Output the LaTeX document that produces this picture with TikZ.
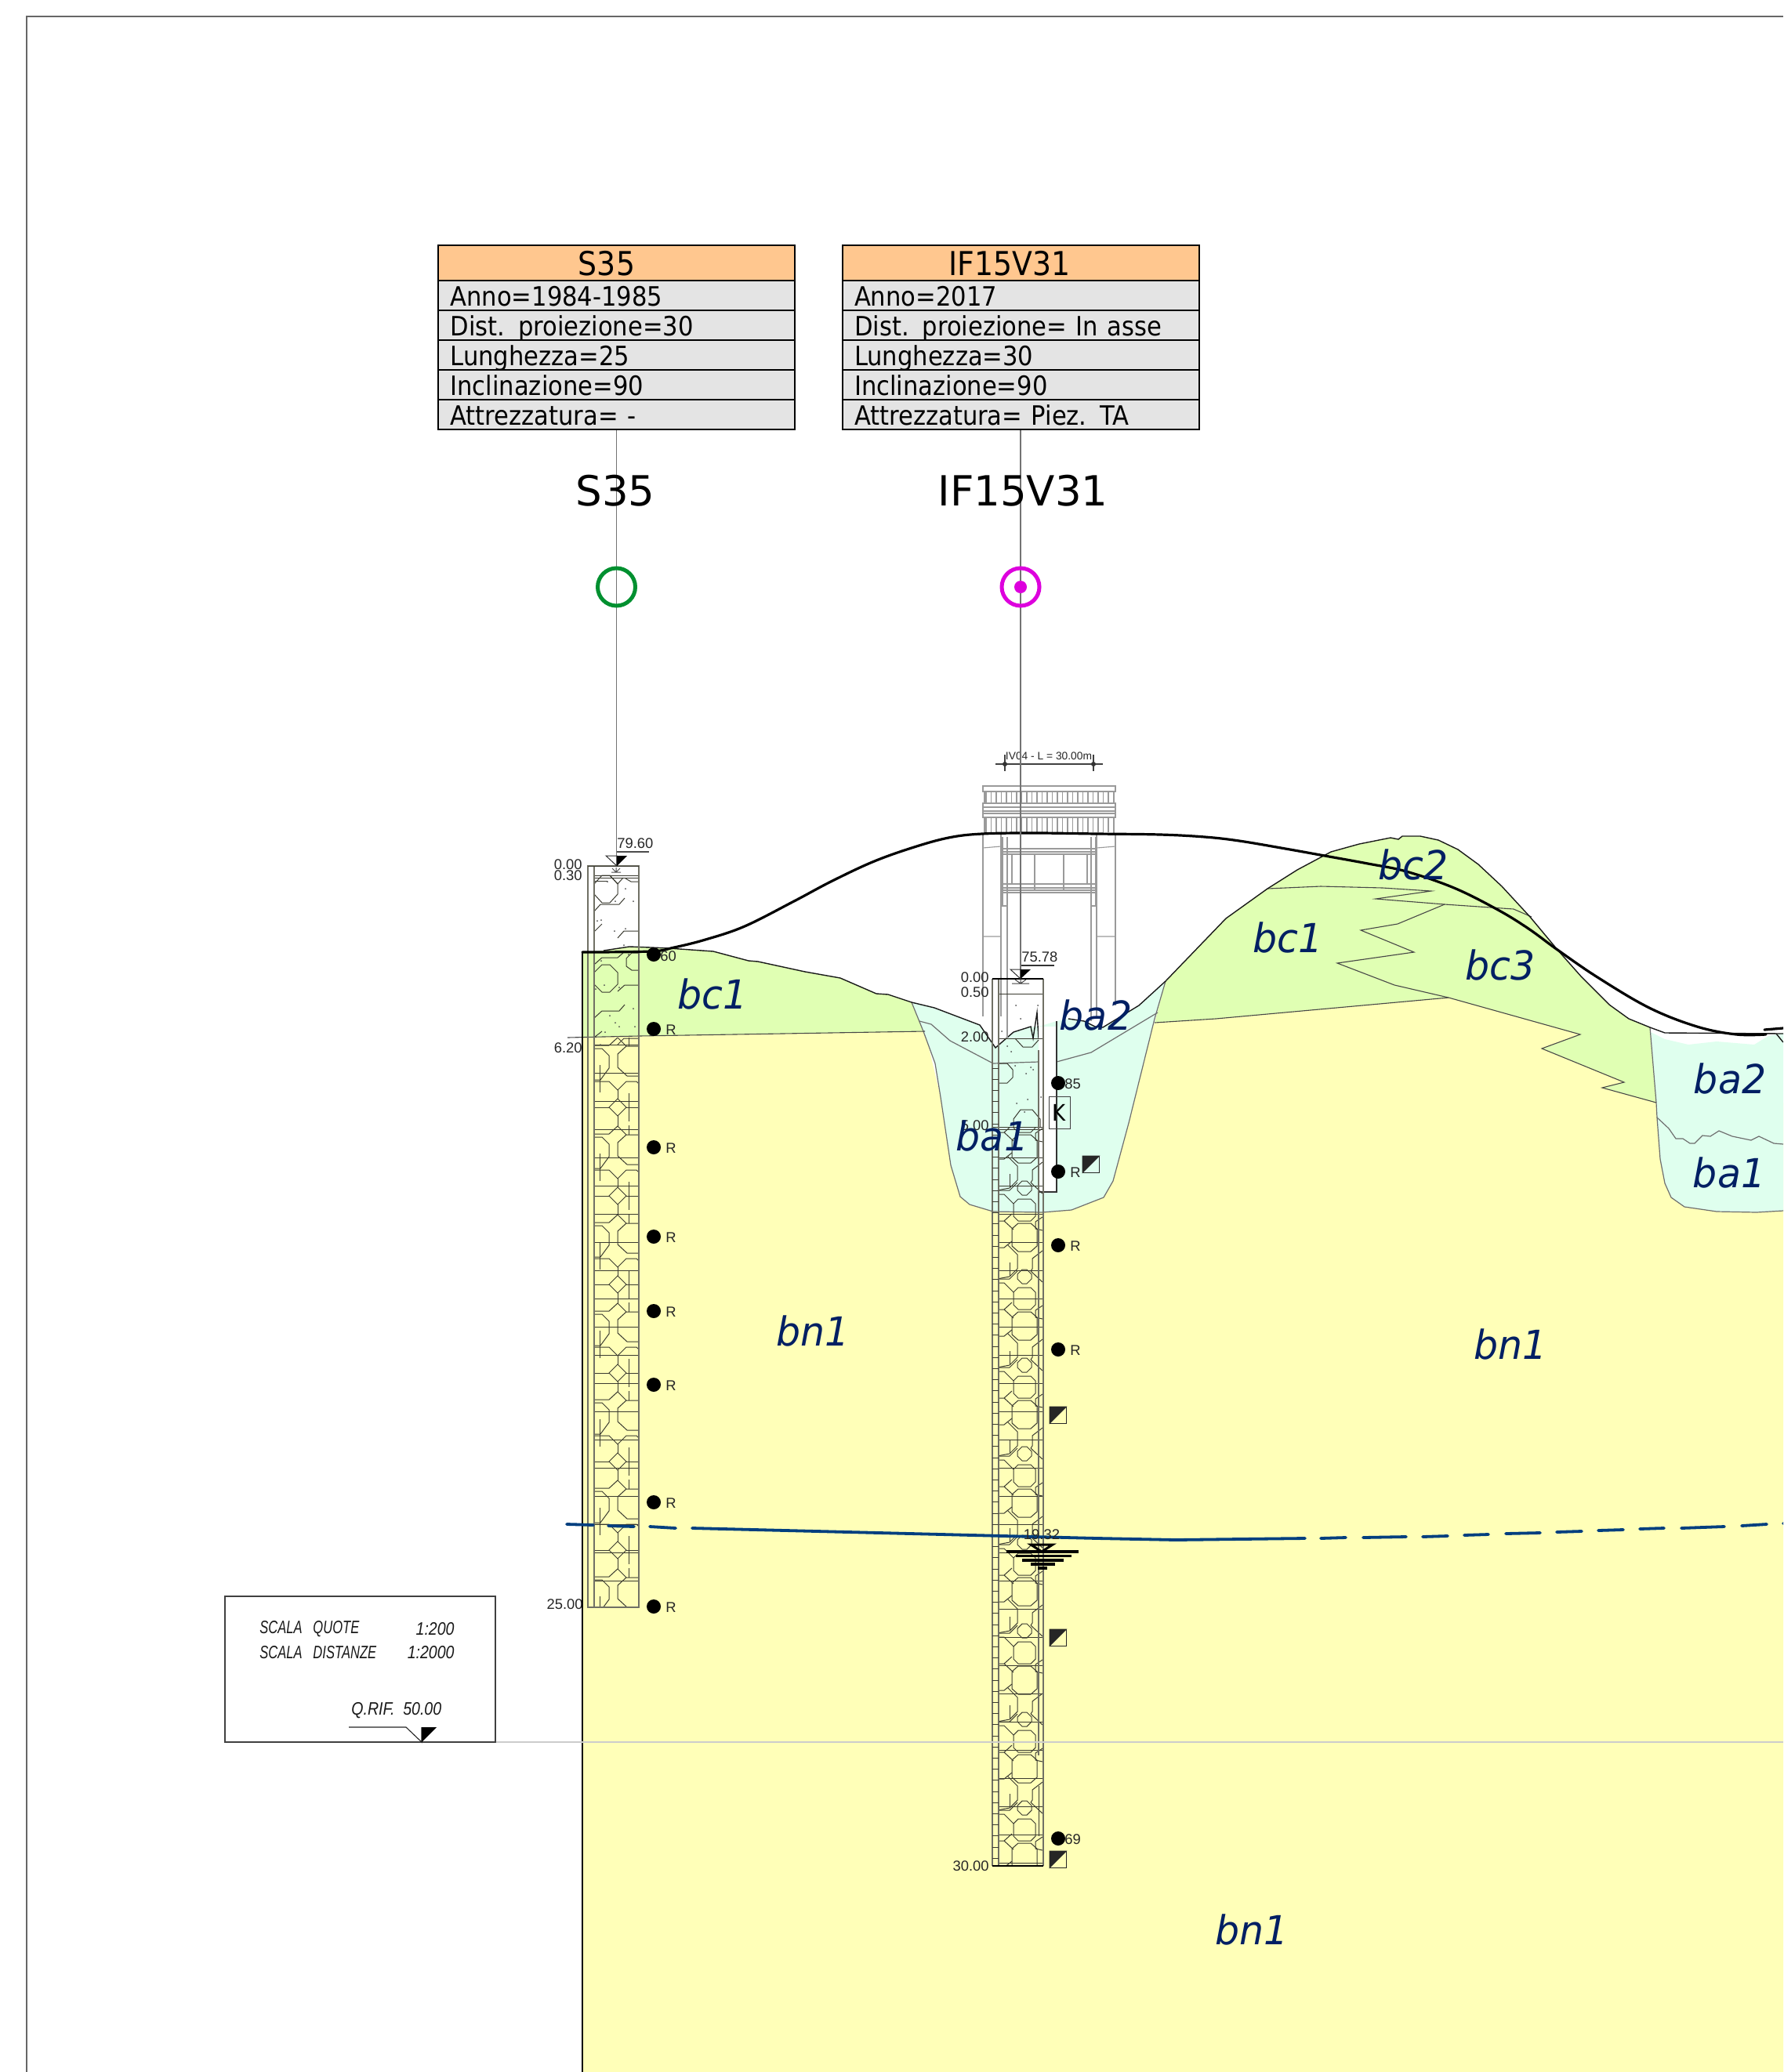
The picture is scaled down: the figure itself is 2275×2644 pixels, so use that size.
\documentclass[tikz,border=0pt]{standalone}
\usepackage{fontspec}
\usepackage{graphicx}
\setmainfont{Liberation Sans}
\newfontfamily\tabfont{DejaVu Sans}[FakeStretch=0.9,WordSpace=0.8]
\newfontfamily\zonefont{DejaVu Sans}[FakeStretch=0.96]
\newfontfamily\bigfont{DejaVu Sans}
\definecolor{yel}{HTML}{FFFFB8}
\definecolor{grn}{HTML}{E0FFB3}
\definecolor{cya}{HTML}{DFFFEE}
\definecolor{hdr}{HTML}{FFC78F}
\definecolor{rowg}{HTML}{E4E4E4}
\definecolor{navy}{HTML}{001F63}
\definecolor{water}{HTML}{003F7F}
\definecolor{hatch}{HTML}{3A3A30}
\definecolor{wall}{HTML}{6E6E6E}
\definecolor{struct}{HTML}{9A9A9A}
\definecolor{colline}{HTML}{707065}
\tikzset{
  cell/.style={draw=black,line width=1pt,fill=rowg,minimum width=227.5pt,minimum height=19pt,
    inner ysep=0pt,inner xsep=7.75pt,text width=212pt,align=left,text height=14pt,text depth=1pt,
    font=\tabfont\fontsize{17pt}{17pt}\selectfont},
  headcell/.style={draw=black,line width=1pt,fill=hdr,minimum width=227.5pt,minimum height=22.5pt,inner sep=0pt},
  headtxt/.style={inner sep=0pt,font=\tabfont\fontsize{21pt}{21pt}\selectfont},
  bigtxt/.style={inner sep=0pt,font=\bigfont\fontsize{26.5pt}{26.5pt}\selectfont},
  zone/.style={inner sep=0pt,text=navy,font=\zonefont\itshape\fontsize{25.5pt}{25.5pt}\selectfont},
  small/.style={inner sep=0pt,text=black!85,font=\fontsize{9.2pt}{9.2pt}\selectfont},
  scaletxt/.style={inner sep=0pt,text=black!90,font=\itshape\fontsize{11.5pt}{11.5pt}\selectfont},
  rod/.style={draw=black!55,line width=0.75pt},
  contact/.style={draw=black!72,line width=0.55pt},
  wallline/.style={draw=wall,line width=0.6pt},
  hl/.style={draw=hatch,line width=0.5pt},
  col/.style={draw=colline,line width=0.8pt},
  stl/.style={draw=struct,line width=0.55pt},
  topo/.style={draw=black,line width=1.6pt,line cap=round},
  wt/.style={draw=water,line width=1.9pt,line cap=round},
  dotm/.style={circle,fill=black,inner sep=0pt,minimum size=9pt},
  sqm/.style={draw=black!85,line width=0.8pt,minimum size=10.5pt,inner sep=0pt}
}
\newcommand\tileS{%
  \draw[hl] (-11,0)--(0,-11)--(11,0)--(0,11)--cycle;
  \draw[hl] (-30,0)--(-11,0) (11,0)--(27,0) (0,11)--(0,24);
  \draw[hl] (-30,34)--(-11,34)--(0,24)--(11,35)--(27,35);
  \draw[hl] (11,35)--(0,45)--(0,62)--(12,73)--(27,73);
  \draw[hl] (-30,38)--(-20,38)--(-11,47)--(-11,63)--(-22,78)--(-30,78);
  \draw[hl] (-30,80)--(-11,80)--(0,91)--(11,80)--(24,80)--(27,83);
  \draw[hl] (0,91)--(0,102);
  \draw[hl] (-23,59)--(-23,94) (14,23)--(14,35) (14,95)--(14,131);
}
\newcommand\tileI{%
  \draw[hl] (-9,-3)--(-3,-9)--(3,-9)--(9,-3)--(9,3)--(3,9)--(-3,9)--(-9,3)--cycle;
  \draw[hl] (-14,20)--(-8,14)--(8,14)--(14,20)--(14,36)--(8,42)--(-8,42)--(-14,36)--cycle;
  \draw[hl] (-16,52)--(-8,45)--(8,45)--(16,52)--(16,74)--(8,81)--(-8,81)--(-16,74)--cycle;
  \draw[hl] (-35,3)--(-19,3)--(-9,-7) (-35,8)--(-26,8)--(-14,20);
  \draw[hl] (8,-7)--(23,7);
  \draw[hl] (-16,33)--(-26,42)--(-35,42) (-26,42)--(-14,53);
  \draw[hl] (23,37)--(14,43)--(14,52)--(23,54);
  \draw[hl] (-35,76)--(-26,76)--(-16,68);
  \draw[hl] (-22,72)--(-9,85)--(-9,103)--(-19,113)--(-35,116);
  \draw[hl] (23,80)--(10,90)--(10,103)--(8,106);
  \draw[hl] (-19,95)--(-19,113) (18,0)--(18,36) (18,85)--(18,113);
}
\begin{document}
\begin{tikzpicture}[x=.5pt,y=-.5pt]
\useasboundingbox (0,0) rectangle (2275,2644);
\clip (0,0) rectangle (2275,2644);
\fill[white] (0,0) rectangle (2275,2644);
% sheet frame
\draw[draw=black!60,line width=0.6pt] (34,2644)--(34,21)--(2275,21);

% geology
\fill[yel] (743,1324)--(815,1322)--(1180,1316)--(1200,1400)--(1440,1400)--(1473,1305)--(1551,1300)--(1848,1273)--(2016,1320)--(1967,1338)--(2072,1381)--(2044,1388)--(2113,1407)--(2275,1407)--(2275,2644)--(743,2644)--cycle;
\fill[grn] (743,1215)--(770,1213)--(803,1208)--(830,1209)--(853,1210)--(910,1214)--(955,1226)--(967,1227)--(1027,1240)--(1072,1248)--(1118,1268)--(1133,1269)--(1163,1279)--(1178,1316)--(815,1322)--(743,1324)--cycle;
\fill[grn] (1473,1305)--(1487,1252)--(1564,1172)--(1617,1134)--(1655,1110)--(1698,1087)--(1734,1077)--(1774,1069)--(1784,1071)--(1789,1067)--(1812,1067)--(1835,1072)--(1860,1084)--(1886,1103)--(1916,1131)--(1952,1170)--(1987,1212)--(2018,1247)--(2053,1282)--(2078,1300)--(2105,1311)--(2113,1407)--(2044,1388)--(2072,1381)--(1967,1338)--(2016,1320)--(1848,1273)--(1551,1300)--cycle;
% alluvium in the first valley
\fill[cya] (1163,1279)--(1192,1286)--(1250,1308)--(1270,1337)--(1293,1317)--(1315,1310)--(1325,1310)--(1348,1303)--(1363,1300)--(1383,1303)--(1397,1310)--(1407,1311)--(1453,1283)--(1487,1252)--(1473,1300)--(1440,1433)--(1420,1507)--(1408,1528)--(1367,1544)--(1330,1547)--(1267,1546)--(1237,1537)--(1225,1527)--(1213,1487)--(1200,1400)--(1193,1357)--(1178,1316)--cycle;
\draw[wallline] (1163,1279)--(1178,1316)--(1193,1357)--(1200,1400)--(1213,1487)--(1225,1527)--(1237,1537)--(1267,1546)--(1330,1547)--(1367,1544)--(1408,1528)--(1420,1507)--(1440,1433)--(1473,1300)--(1487,1252);
\draw[wallline] (1173,1303)--(1188,1307)--(1212,1328)--(1267,1357)--(1325,1355);
\draw[wallline] (1348,1355)--(1392,1343)--(1477,1292);
% alluvium in the second valley
\fill[cya] (2106,1317)--(2124,1326)--(2154,1333)--(2190,1329)--(2238,1333)--(2256,1322)--(2275,1318)--(2275,1545)--(2241,1547)--(2190,1546)--(2149,1540)--(2132,1528)--(2124,1510)--(2118,1479)--(2114,1426)--(2113,1407)--cycle;
\draw[wallline] (2105,1311)--(2113,1407)--(2114,1426)--(2118,1479)--(2124,1510)--(2132,1528)--(2149,1540)--(2190,1546)--(2241,1547)--(2275,1545);
\draw[wallline] (2114,1426)--(2129,1440)--(2138,1453)--(2147,1453)--(2156,1459)--(2162,1459)--(2172,1449)--(2182,1450)--(2193,1443)--(2210,1450)--(2234,1455)--(2244,1450)--(2263,1459)--(2275,1460);
% contacts
\draw[contact] (724,1324)--(815,1322)--(1180,1316);
\draw[contact] (1473,1305)--(1551,1300)--(1848,1273)--(2016,1320)--(1967,1338)--(2072,1381)--(2044,1388)--(2113,1407);
\draw[contact] (1617,1134)--(1685,1131)--(1764,1133)--(1826,1137)--(1755,1147)--(1843,1154)--(1931,1160)--(1954,1170);
\draw[contact] (1843,1154)--(1783,1179)--(1736,1187)--(1804,1215)--(1706,1229)--(1779,1257)--(1848,1273);
% ground surface
\draw[draw=black!90,line width=0.7pt] (770,1213)--(803,1208)--(830,1209)--(853,1210)--(910,1214)--(955,1226)--(967,1227)--(1027,1240)--(1072,1248)--(1118,1268)--(1133,1269)--(1163,1279)--(1192,1286)--(1250,1308)--(1270,1337)--(1293,1317)--(1315,1310)--(1318,1325)--(1323,1292)--(1325,1325);
\draw[draw=black!90,line width=0.7pt] (1363,1300)--(1383,1303)--(1397,1310)--(1407,1311)--(1453,1283)--(1487,1252)--(1564,1172)--(1617,1134)--(1655,1110)--(1698,1087)--(1734,1077)--(1774,1069)--(1784,1071)--(1789,1067)--(1812,1067)--(1835,1072)--(1860,1084)--(1886,1103)--(1916,1131)--(1952,1170)--(1987,1212)--(2018,1247)--(2053,1282)--(2078,1300)--(2105,1311)--(2124,1318)--(2275,1319);
\draw[draw=black!90,line width=0.7pt] (2266,1319)--(2275,1330);
\draw[draw=black,line width=1pt] (743,1215)--(743,2644);

% viaduct
\draw[stl] (1254,1003) rectangle (1423,1010);
\foreach \k in {0,...,25}{\draw[stl] ({1258+6.5*\k},1010)--({1258+6.5*\k},1025) ({1258+6.5*\k},1043)--({1258+6.5*\k},1062);}
\draw[stl] (1256,1010)--(1256,1025) (1421,1010)--(1421,1025);
\draw[stl] (1254,1025) rectangle (1423,1043);
\draw[stl] (1254,1030)--(1423,1030) (1254,1035)--(1423,1035) (1254,1038)--(1423,1038);
\draw[stl] (1256,1043)--(1256,1063) (1421,1043)--(1421,1063);
\draw[stl] (1254,1063)--(1254,1297) (1423,1063)--(1423,1283);
\draw[stl] (1254,1082)--(1277,1080) (1254,1195)--(1277,1195) (1399,1082)--(1423,1080) (1399,1195)--(1423,1195);
\draw[stl] (1277,1063)--(1277,1297) (1399,1063)--(1399,1300);
\draw[stl] (1285,1068)--(1285,1325) (1392,1068)--(1392,1303);
\draw[stl] (1279,1068)--(1279,1156) (1398,1068)--(1398,1156);
\draw[stl] (1278,1083)--(1399,1083) (1278,1087)--(1399,1087) (1278,1090)--(1399,1090);
\draw[stl] (1291,1090)--(1291,1128) (1320,1090)--(1320,1136) (1357,1090)--(1357,1136) (1387,1090)--(1387,1128);
\draw[stl] (1278,1128)--(1399,1128) (1278,1133)--(1399,1133) (1278,1136)--(1399,1136) (1278,1139)--(1399,1139);
\draw[stl] (1278,1156)--(1285,1156) (1392,1156)--(1399,1156);
\draw[stl,draw=black!75] (1270,975)--(1407,975) (1282,963)--(1282,984) (1395,963)--(1395,984);
\fill[black!80] (1282,975) circle (1.5pt) (1395,975) circle (1.5pt);
\node[small,font=\fontsize{6.9pt}{6.9pt}\selectfont] (ivlab) at (1338,965) {IV04 - L = 30.00m};

% piezometer strip
\fill[white] (1325,1310) rectangle (1348,1521);
\draw[draw=black!80,line width=0.7pt] (1348,1303)--(1348,1521)--(1325,1521);

% borehole S35
\begin{scope}
  \clip (758,1324) rectangle (815,2051);
  \foreach \yc in {1300,1413,1526,1639,1752,1865,1978}{
    \begin{scope}[shift={(788,\yc)}]\tileS\end{scope}}
  \foreach \k in {0,...,20}{\draw[hl] (758,{1333+36*\k})--(815,{1333+36*\k});}
\end{scope}
\draw[hl] (768,1117)--(778,1117)--(788,1128)--(788,1141)--(778,1152)--(768,1152)--(758,1141)--(758,1128)--cycle;
\draw[hl] (788,1128)--(795,1120) (778,1117)--(788,1128) (798,1121)--(805,1125)--(815,1125);
\draw[hl] (758,1163)--(766,1154)--(790,1154)--(797,1146) (759,1188)--(768,1179) (788,1197)--(796,1188)--(815,1188);
\draw[hl] (759,1230)--(768,1222)--(788,1222)--(795,1216) (815,1216)--(806,1216)--(799,1223)--(799,1233)--(806,1238)--(815,1238);
\draw[hl] (768,1231)--(778,1231)--(788,1241)--(788,1256)--(778,1266)--(768,1266)--(758,1256)--(758,1241)--cycle;
\draw[hl] (788,1265)--(797,1257)--(815,1257) (758,1299)--(768,1290)--(790,1290)--(797,1282) (759,1323)--(768,1316) (788,1333)--(796,1325)--(815,1325);
\draw[hl] (758,1117)--(815,1117) (758,1120)--(815,1120) (758,1124)--(775,1124);
\foreach \p/\q in {775/1125,798/1134,785/1150,808/1150,762/1175,767/1174,784/1188,798/1185,796/1206,802/1218,767/1226,771/1257,790/1260,760/1262,808/1287,778/1296,785/1305,790/1310,810/1310,772/1317,766/1333}{\fill[black!70] (\p,\q) circle (0.5pt);}
\draw[hl,draw=black!70] (781,1108)--(786,1113) (791,1108)--(786,1113) (786,1107)--(786,1113) (780,1113)--(792,1113);
\draw[col] (750,1105)--(750,2051)--(815,2051)--(815,1105)--cycle (758,1105)--(758,2051);
\draw[hl] (750,1105)--(815,1105);

% borehole IF15V31
\begin{scope}
  \clip (1274,1438) rectangle (1331,2381);
  \foreach \yc in {1403,1516,1629,1742,1855,1968,2081,2194,2307,2420}{
    \begin{scope}[shift={(1307,\yc)}]\tileI\end{scope}}
  \foreach \k in {0,...,26}{\draw[hl] (1274,{1441+36*\k})--(1331,{1441+36*\k});}
\end{scope}
\draw[hl] (1295,1325)--(1305,1336)--(1317,1336)--(1325,1327);
\draw[hl] (1275,1357)--(1285,1357)--(1292,1365)--(1292,1375)--(1285,1382)--(1275,1382);
\draw[hl] (1293,1438)--(1293,1428)--(1302,1416)--(1317,1416)--(1327,1428)--(1327,1438);
\foreach \p/\q in {1296/1283,1324/1283,1302/1300,1278/1316,1285/1335,1290/1342,1295/1360,1315/1362,1318/1365,1309/1370,1328/1400,1311/1403,1297/1408,1307/1419}{\fill[black!70] (\p,\q) circle (0.5pt);}
\draw[hl] (1274,1268)--(1331,1268) (1274,1325)--(1331,1325) (1266,1438)--(1331,1438);
\draw[hl,draw=black!75] (1291,1255)--(1313,1255) (1295,1250)--(1302,1255) (1309,1250)--(1302,1255) (1302,1250)--(1302,1255);
\draw[col] (1266,1249)--(1266,2381) (1274,1249)--(1274,2381) (1331,1249)--(1331,2381) (1325,1340)--(1325,2240);
\draw[draw=black,line width=0.7pt] (1266,1249)--(1331,1249) (1266,2381)--(1331,2381);
\foreach \k in {0,...,71}{\draw[hl] (1266,{1363+14.2*\k})--(1274,{1363+14.2*\k});}

% water table
\draw[wt] (723,1945)--(757,1946) (776,1947)--(809,1948) (829,1948)--(862,1950) (883,1950)--(1400,1963)--(1500,1965)--(1665,1963) (1685,1963)--(1717,1962) (1739,1962)--(1794,1961) (1815,1961)--(1847,1960) (1868,1959)--(1899,1958) (1921,1957)--(1965,1956) (1986,1955)--(2018,1954) (2039,1953)--(2071,1952) (2092,1951)--(2123,1950) (2145,1950)--(2200,1948) (2222,1947)--(2254,1945) (2275,1944)--(2276,1944);
\node[small] (wtlab) at (1329,1958) {19.32};
\draw[draw=black,line width=1.5pt] (1315,1971)--(1343,1971)--(1329,1980)--cycle;
\draw[draw=black,line width=1.9pt] (1284,1980)--(1376,1980) (1296,1985.5)--(1367,1985.5) (1304,1991)--(1357,1991) (1315,1996)--(1346,1996) (1324,2001)--(1336,2001);

% ground surface, earlier profile
\draw[topo] plot[smooth,tension=.6] coordinates {(743,1215) (830,1214) (860,1209) (900,1199) (950,1182) (1013,1150) (1060,1125) (1113,1100) (1163,1082) (1210,1069) (1253,1064) (1320,1063) (1400,1064) (1480,1065) (1537,1068) (1581,1073) (1640,1083) (1690,1092) (1745,1102) (1794,1112) (1855,1133) (1911,1161) (1950,1185) (1987,1212) (2038,1247) (2104,1286) (2165,1310) (2215,1320) (2253,1320)};
\draw[topo] (2251,1314)--(2275,1312);

% headers and rods
\coordinate (topS) at (786.5,1105);
\coordinate (topI) at (1302,1249);
\node[headcell] (tabS0) at (786.5,335.5) {};
\node[cell] (tabS1) at (786.5,377) {Anno=1984-1985};
\node[cell] (tabS2) at (786.5,415) {Dist. proiezione=30};
\node[cell] (tabS3) at (786.5,453) {Lunghezza=25};
\node[cell] (tabS4) at (786.5,491) {Inclinazione=90};
\node[cell] (tabS5) at (786.5,529) {Attrezzatura= -};
\node[headtxt] (tabS0t) at (774,336) {S35};
\node[headcell] (tabI0) at (1302,335.5) {};
\node[cell] (tabI1) at (1302,377) {Anno=2017};
\node[cell] (tabI2) at (1302,415) {Dist. proiezione= In asse};
\node[cell] (tabI3) at (1302,453) {Lunghezza=30};
\node[cell] (tabI4) at (1302,491) {Inclinazione=90};
\node[cell] (tabI5) at (1302,529) {Attrezzatura= Piez. TA};
\node[headtxt] (tabI0t) at (1288,336) {IF15V31};
\draw[rod] (tabS5.south)--(topS);
\draw[rod] (tabI5.south)--(topI);
\node[bigtxt] (labS) at (785,626) {S35};
\node[bigtxt] (labI) at (1305,626) {IF15V31};
\node[circle,draw={rgb,255:red,0;green,144;blue,48},line width=2.5pt,minimum size=24pt,inner sep=0pt] (circS) at (786.5,749) {};
\node[circle,draw={rgb,255:red,221;green,0;blue,221},line width=2.5pt,minimum size=24pt,inner sep=0pt] (circI) at (1302,749) {};
\node[circle,fill={rgb,255:red,221;green,0;blue,221},minimum size=8pt,inner sep=0pt] (dotI) at (1302,749) {};

% elevation marks
\node[small,anchor=west] (elS) at (787,1076) {79.60};
\draw[draw=black!70,line width=0.55pt] (787,1087)--(828,1087);
\draw[draw=black!80,line width=0.5pt] (773,1092)--(787,1092)--(787,1105)--cycle;
\fill[black] (787,1092)--(800,1092)--(787,1105)--cycle;
\node[small,anchor=west] (elI) at (1303,1221) {75.78};
\draw[draw=black!80,line width=0.55pt] (1303,1232)--(1345,1232);
\draw[draw=black!80,line width=0.5pt] (1289,1237)--(1302,1237)--(1302,1249)--cycle;
\fill[black] (1302,1237)--(1315,1237)--(1302,1249)--cycle;
\node[small,anchor=east] (s000) at (743,1103) {0.00};
\node[small,anchor=east] (s030) at (743,1117) {0.30};
\node[small,anchor=east] (s620) at (743,1337) {6.20};
\node[small,anchor=east] (s2500) at (744,2047) {25.00};
\node[small,anchor=east] (i000) at (1262,1247) {0.00};
\node[small,anchor=east] (i050) at (1262,1266) {0.50};
\node[small,anchor=east] (i200) at (1262,1323) {2.00};
\node[small,anchor=east] (i500) at (1262,1436) {5.00};
\node[small,anchor=east] (i3000) at (1262,2381) {30.00};

% samples and tests, S35
\node[dotm] (ms1) at (834,1218) {};
\node[small,anchor=west] (ms1t) at (842,1220) {60};
\foreach \yy [count=\i from 2] in {1313,1464,1578,1673,1767,1917,2050}{
  \node[dotm] (ms\i) at (834,\yy) {};
  \node[small,anchor=west] (ms\i t) at (849,\yy+1) {R};
}
% samples and tests, IF15V31
\node[dotm] (mi1) at (1350,1382) {};
\node[small,anchor=west] (mi1t) at (1358,1383) {85};
\foreach \yy [count=\i from 2] in {1495,1589,1722}{
  \node[dotm] (mi\i) at (1350,\yy) {};
  \node[small,anchor=west] (mi\i t) at (1365,\yy+1) {R};
}
\node[dotm] (mi5) at (1350,2346) {};
\node[small,anchor=west] (mi5t) at (1358,2347) {69};
\foreach \nm/\xx/\yy in {sq1/1392/1486,sq2/1350/1806,sq3/1350/2090,sq4/1350/2373}{
  \node[sqm] (\nm) at (\xx,\yy) {};
  \fill[black!85] (\nm.north west)--(\nm.north east)--(\nm.south west)--cycle;
}
\node[draw=black!75,line width=0.5pt,minimum width=13.5pt,minimum height=20.5pt,inner sep=0pt,font=\tabfont\fontsize{14.5pt}{14.5pt}\selectfont] (kbox) at (1351.5,1419.5) {K};

% zone labels
\node[zone] (z1) at (909,1268) {bc1};
\node[zone] (z2) at (1037,1698) {bn1};
\node[zone] (z3) at (1398,1295) {ba2};
\node[zone] (z4) at (1266,1449) {ba1};
\node[zone] (z5) at (1643,1196) {bc1};
\node[zone] (z6) at (1803,1103) {bc2};
\node[zone] (z7) at (1914,1231) {bc3};
\node[zone] (z8) at (2207,1376) {ba2};
\node[zone] (z9) at (2206,1496) {ba1};
\node[zone] (z10) at (1927,1715) {bn1};
\node[zone] (z11) at (1597,2462) {bn1};

% scale box
\draw[draw=black!20,line width=0.7pt] (632,2223)--(2275,2223);
\node[draw=black!75,line width=0.55pt,minimum width=172.5pt,minimum height=93pt,inner sep=0pt] (scalebox) at (459.5,2130) {};
\node[scaletxt,anchor=west] (sc1) at (331,2079) {\scalebox{0.72}[1]{SCALA\ \ \ QUOTE}};
\node[scaletxt,anchor=east] (sc2) at (580,2079) {\scalebox{0.85}[1]{1:200}};
\node[scaletxt,anchor=west] (sc3) at (331,2109) {\scalebox{0.72}[1]{SCALA\ \ \ DISTANZE}};
\node[scaletxt,anchor=east] (sc4) at (580,2109) {\scalebox{0.85}[1]{1:2000}};
\node[scaletxt,anchor=west] (sc5) at (448,2183) {\scalebox{0.85}[1]{Q.RIF.\ \ 50.00}};
\draw[draw=black!85,line width=0.55pt] (445,2204)--(518,2204)--(538,2223)--(538,2204);
\fill[black] (538,2204)--(557,2204)--(538,2223)--cycle;
\end{tikzpicture}
\end{document}
